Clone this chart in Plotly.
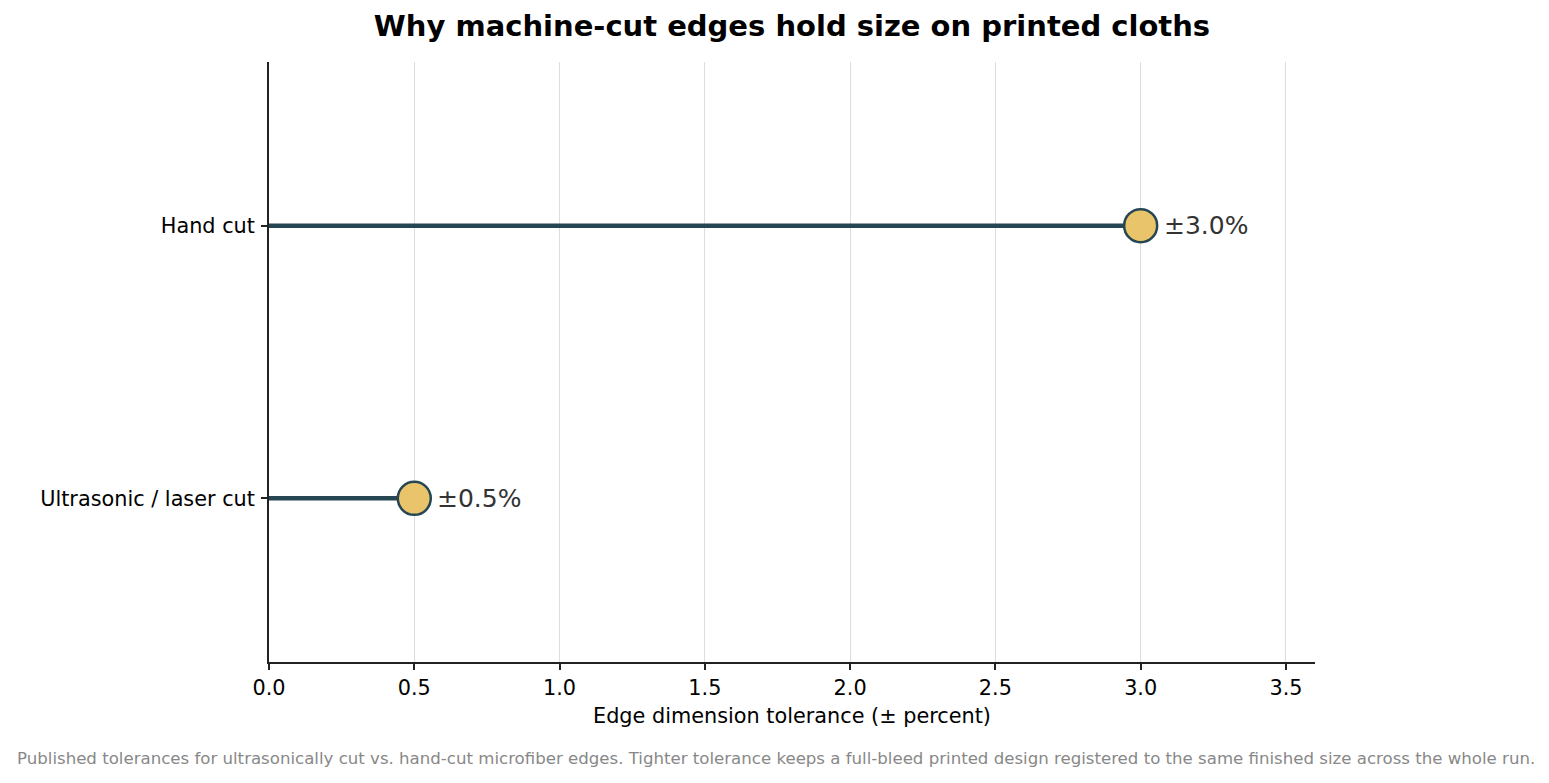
"""
Lollipop chart: edge dimension tolerance by cutting method.
"""
import plotly.graph_objects as go

# data
methods = ["Ultrasonic / laser cut", "Hand cut"]
tolerance = [0.5, 3.0]
labels = ["±0.5%", "±3.0%"]
x_ticks = [0.0, 0.5, 1.0, 1.5, 2.0, 2.5, 3.0, 3.5]

LINE_COL = "#264653"
DOT_COL = "#E9C46A"
FONT = "DejaVu Sans"

fig = go.Figure()

# stems, one per method
for m, v in zip(methods, tolerance):
    fig.add_trace(go.Scatter(x=[0, v], y=[m, m], mode="lines",
                             line=dict(color=LINE_COL, width=4.5),
                             showlegend=False, hoverinfo="skip"))

# heads
fig.add_trace(go.Scatter(x=tolerance, y=methods, mode="markers",
                         marker=dict(size=33, color=DOT_COL,
                                     line=dict(color=LINE_COL, width=2.5)),
                         showlegend=False, cliponaxis=False))

# value labels next to the heads
for m, v, t in zip(methods, tolerance, labels):
    fig.add_annotation(x=v, y=m, text=t, xanchor="left", yanchor="middle",
                       xshift=21, showarrow=False,
                       font=dict(family=FONT, size=25, color="#333333"))

fig.update_layout(
    width=1549, height=783,
    paper_bgcolor="white", plot_bgcolor="white",
    font=dict(family=FONT, color="black"),
    margin=dict(l=261, r=242, t=54, b=129),
    title=dict(text="<b>Why machine-cut edges hold size on printed cloths</b>",
               x=0.5, xref="paper", xanchor="center", y=0.977, yanchor="middle",
               font=dict(family=FONT, size=29, color="black")),
)

fig.update_xaxes(range=[0, 3.6], tickvals=x_ticks, ticktext=[f"{t:.1f}" for t in x_ticks],
                 showgrid=True, gridcolor="#dddddd", gridwidth=1.3,
                 showline=True, linecolor="#222222", linewidth=1.8,
                 ticks="outside", ticklen=6, tickwidth=1.5, tickcolor="#222222",
                 tickfont=dict(family=FONT, size=20.8),
                 title=dict(text="Edge dimension tolerance (± percent)",
                            font=dict(family=FONT, size=20.8), standoff=10),
                 zeroline=False)

fig.update_yaxes(range=[-0.6, 1.6], categoryorder="array", categoryarray=methods,
                 showgrid=False, showline=True, linecolor="#222222", linewidth=1.8,
                 ticks="outside", ticklen=6, tickwidth=1.5, tickcolor="#222222",
                 ticklabelstandoff=2,
                 tickfont=dict(family=FONT, size=20.8), zeroline=False)

fig.add_annotation(text="Published tolerances for ultrasonically cut vs. hand-cut microfiber edges. "
                        "Tighter tolerance keeps a full-bleed printed design registered to the same "
                        "finished size across the whole run.",
                   xref="paper", yref="paper", x=(775 - 268) / 1046, y=-(758 - 662) / 600,
                   xanchor="center", yanchor="middle", showarrow=False,
                   font=dict(family=FONT, size=16.6, color="#888888"))

fig.write_html("out.html")
